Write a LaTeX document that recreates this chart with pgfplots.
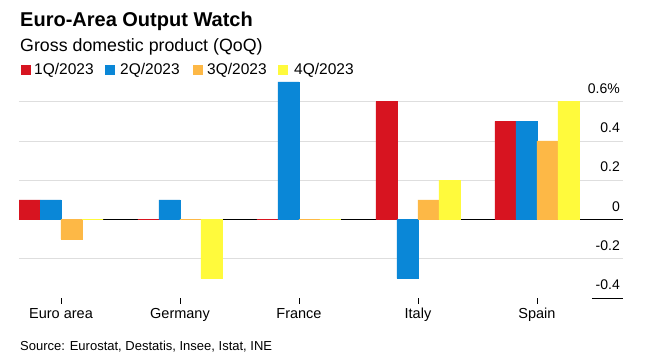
\documentclass[border=0pt]{standalone}
\usepackage{pgfplots}
\pgfplotsset{compat=1.18}
\usepackage{fontspec}
\setmainfont{Liberation Sans}
\definecolor{cRed}{RGB}{215,20,32}
\definecolor{cBlue}{RGB}{10,135,215}
\definecolor{cOrange}{RGB}{253,184,70}
\definecolor{cYellow}{RGB}{255,250,60}
\definecolor{cGrid}{RGB}{222,222,222}
\begin{document}
\begin{tikzpicture}
\useasboundingbox[fill=white] (0pt,0pt) rectangle (654pt,364pt);
% titles
\node[anchor=base west, inner sep=0pt] at (20pt,337pt) {\fontsize{20}{23}\selectfont\bfseries Euro-Area Output Watch};
\node[anchor=base west, inner sep=0pt] at (20pt,312pt) {\fontsize{17.8}{20}\selectfont Gross domestic product (QoQ)};
% legend
\fill[cRed] (21pt,289pt) rectangle (31pt,299pt);
\node[anchor=base west, inner sep=0pt] at (34pt,289pt) {\fontsize{15.5}{17}\selectfont 1Q/2023};
\fill[cBlue] (105pt,289pt) rectangle (115pt,299pt);
\node[anchor=base west, inner sep=0pt] at (120pt,289pt) {\fontsize{15.5}{17}\selectfont 2Q/2023};
\fill[cOrange] (193pt,289pt) rectangle (203pt,299pt);
\node[anchor=base west, inner sep=0pt] at (207pt,289pt) {\fontsize{15.5}{17}\selectfont 3Q/2023};
\fill[cYellow] (278pt,289pt) rectangle (288pt,299pt);
\node[anchor=base west, inner sep=0pt] at (294pt,289pt) {\fontsize{15.5}{17}\selectfont 4Q/2023};
% source
\node[anchor=base west, inner sep=0pt] at (20pt,13pt) {\fontsize{13}{15}\selectfont Source: Eurostat, Destatis, Insee, Istat, INE};
\begin{axis}[
  at={(19pt,66pt)}, anchor=south west,
  scale only axis, width=604pt, height=216pt,
  xmin=-0.353, xmax=4.723, ymin=-0.4, ymax=0.7,
  axis line style={draw=none},
  xtick={0,1,2,3,4},
  xticklabels={Euro area,Germany,France,Italy,Spain},
  x tick style={draw=black, line width=0.5pt},
  tick align=outside, major tick length=6pt,
  xtick pos=bottom,
  xticklabel style={font=\fontsize{14.5}{16}\selectfont, anchor=north, inner sep=0pt, text height=10pt, text depth=3pt, yshift=-4pt},
  ytick={-0.2,0.2,0.4,0.6},
  yticklabels={-0.2,0.2,0.4,0.6\%},
  extra y ticks={-0.4,0},
  extra y tick labels={-0.4,0},
  extra y tick style={grid=none},
  ymajorgrids, grid style={cGrid, line width=0.8pt},
  y tick style={draw=none},
  ytick pos=right, yticklabel pos=right,
  yticklabel style={font=\fontsize{14}{16}\selectfont, anchor=south east, inner sep=0pt, xshift=-9pt, yshift=8pt},
  clip=false,
]
\draw[black, line width=0.8pt] (axis cs:-0.353,0) -- (axis cs:4.723,0);
\addplot[ybar, bar width=0.1765, bar shift=-0.2647, fill=cRed, draw=cRed, line width=0.6pt]
  coordinates {(0,0.1) (1,0) (2,0) (3,0.6) (4,0.5)};
\addplot[ybar, bar width=0.1765, bar shift=-0.0882, fill=cBlue, draw=cBlue, line width=0.6pt]
  coordinates {(0,0.1) (1,0.1) (2,0.7) (3,-0.3) (4,0.5)};
\addplot[ybar, bar width=0.1765, bar shift=0.0882, fill=cOrange, draw=cOrange, line width=0.6pt]
  coordinates {(0,-0.1) (1,0) (2,0) (3,0.1) (4,0.4)};
\addplot[ybar, bar width=0.1765, bar shift=0.2647, fill=cYellow, draw=cYellow, line width=0.6pt]
  coordinates {(0,0) (1,-0.3) (2,0) (3,0.2) (4,0.6)};
\draw[black, line width=0.8pt] (axis cs:4.462,-0.4) -- (axis cs:4.723,-0.4);
\end{axis}
\end{tikzpicture}
\end{document}
